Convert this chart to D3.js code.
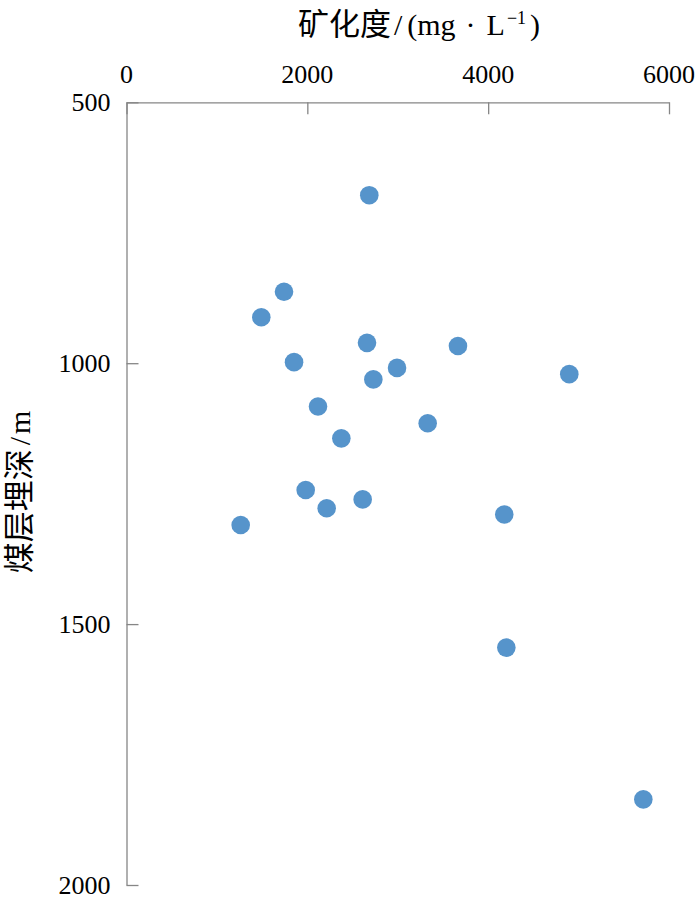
<!DOCTYPE html>
<html>
<head>
<meta charset="utf-8">
<script src="https://cdn.jsdelivr.net/npm/d3@7"></script>
<style>
  body { margin: 0; background: #fff; }
</style>
</head>
<body>
<div id="chart"></div>
<script>
// mineralization (mg/L) vs coal seam burial depth (m)
const mineralization = [2685, 1742, 1491, 2660, 3666, 1853, 2992, 2730, 4897, 2118,
  3331, 2376, 1982, 2612, 2214, 4178, 1263, 4201, 5716];
const depth = [678, 863, 912, 961, 967, 998, 1009, 1031, 1021, 1083,
  1115, 1144, 1243, 1261, 1278, 1290, 1310, 1545, 1836];
const xTicks = [0, 2000, 4000, 6000];
const yTicks = [500, 1000, 1500, 2000];

const width = 700, height = 900;
const margin = { top: 102.3, right: 31, bottom: 15, left: 126.5 };
const axisColor = "#868686";
const dotColor = "#5694cb";
const serif = "Liberation Serif";
const cjk = "Noto Sans CJK SC";

const points = mineralization.map((v, i) => ({ x: v, y: depth[i] }));

const svg = d3.select("#chart")
  .append("svg")
  .attr("width", width)
  .attr("height", height)
  .attr("viewBox", [0, 0, width, height]);

const x = d3.scaleLinear()
  .domain([0, 6000])
  .range([margin.left, width - margin.right]);

const y = d3.scaleLinear()
  .domain([500, 2000])
  .range([margin.top, height - margin.bottom]);

function styleAxis(g) {
  g.select(".domain").attr("stroke", axisColor).attr("stroke-width", 1.3);
  g.selectAll(".tick line").attr("stroke", axisColor).attr("stroke-width", 1.3);
}

// x axis sits on top, ticks point into the plot; labels added below in serif
svg.append("g")
  .attr("transform", `translate(0,${margin.top})`)
  .call(d3.axisTop(x).tickValues(xTicks).tickSizeInner(-12).tickSizeOuter(0).tickFormat(""))
  .call(styleAxis);

svg.append("g")
  .attr("transform", `translate(${margin.left},0)`)
  .call(d3.axisLeft(y).tickValues(yTicks).tickSizeInner(-12).tickSizeOuter(0).tickFormat(""))
  .call(styleAxis);

svg.append("g")
  .selectAll("text")
  .data(xTicks)
  .join("text")
  .attr("x", d => x(d))
  .attr("y", margin.top - 19)
  .attr("text-anchor", "middle")
  .attr("font-family", serif)
  .attr("font-size", 26)
  .text(d => d);

svg.append("g")
  .selectAll("text")
  .data(yTicks)
  .join("text")
  .attr("x", margin.left - 16)
  .attr("y", d => y(d))
  .attr("dy", "0.34em")
  .attr("text-anchor", "end")
  .attr("font-family", serif)
  .attr("font-size", 26)
  .text(d => d);

// x title
const xTitle = svg.append("text")
  .attr("x", 419)
  .attr("y", 35)
  .attr("text-anchor", "middle")
  .attr("font-family", serif)
  .attr("font-size", 30)
  .attr("fill", "#000");
xTitle.append("tspan").attr("font-family", cjk).attr("font-size", 31).text("矿化度");
xTitle.append("tspan").attr("dx", 3).text("/");
xTitle.append("tspan").attr("dx", 5).text("(mg");
xTitle.append("tspan").attr("dx", 10).text("·");
xTitle.append("tspan").attr("dx", 11).text("L");
xTitle.append("tspan").attr("dy", -11).attr("dx", 2).attr("font-size", 18).text("−1");
xTitle.append("tspan").attr("dy", 11).attr("dx", 4).text(")");

// y title
const yTitle = svg.append("text")
  .attr("transform", "translate(30,492) rotate(-90)")
  .attr("text-anchor", "middle")
  .attr("font-family", serif)
  .attr("font-size", 30)
  .attr("fill", "#000");
yTitle.append("tspan").attr("font-family", cjk).attr("font-size", 31).text("煤层埋深");
yTitle.append("tspan").attr("dx", 4).text("/");
yTitle.append("tspan").attr("dx", 3).text("m");

svg.append("g")
  .selectAll("circle")
  .data(points)
  .join("circle")
  .attr("cx", d => x(d.x))
  .attr("cy", d => y(d.y))
  .attr("r", 9.3)
  .attr("fill", dotColor);
</script>
</body>
</html>
